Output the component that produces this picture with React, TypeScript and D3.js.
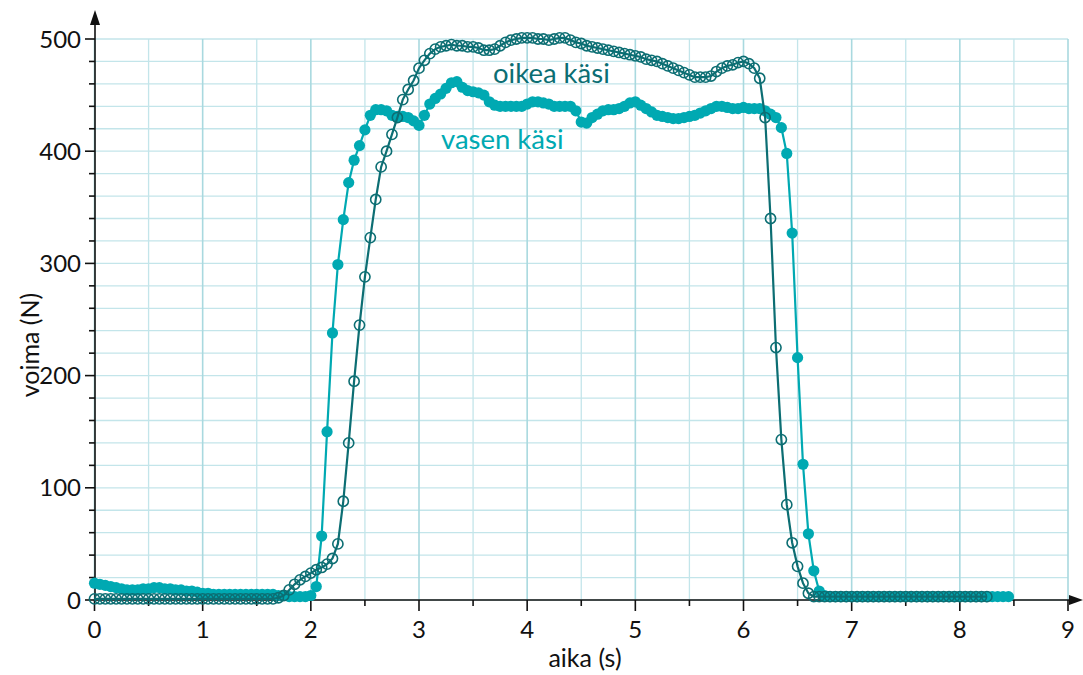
import React from "react";
import * as d3 from "d3";

// sampling interval of the measurement (s)
const DT = 0.05;

// oikea käsi (right hand), force in N, sampled every DT from t = 0
const oikeaValues: number[] = [
  1, 1, 1, 1, 1, 1, 1, 1, 1, 1,
  1, 1, 1, 1, 1, 1, 1, 1, 1, 1,
  1, 1, 1, 1, 1, 1, 1, 1, 1, 1,
  1, 1, 1, 1, 2, 4, 9, 14, 18, 21,
  24, 27, 29, 32, 37, 50, 88, 140, 195, 245,
  288, 323, 357, 386, 400, 415, 430, 446, 455, 463,
  474, 481, 487, 491, 493, 494, 495, 494, 494, 493,
  493, 492, 490, 490, 491, 494, 497, 499, 500, 501,
  501, 501, 500, 500, 499, 500, 501, 501, 499, 497,
  496, 494, 493, 492, 491, 490, 489, 488, 487, 486,
  485, 484, 482, 481, 480, 478, 476, 474, 472, 470,
  468, 466, 466, 466, 467, 471, 474, 476, 477, 479,
  480, 478, 474, 465, 430, 340, 225, 143, 85, 51,
  30, 15, 6, 3, 3, 3, 3, 3, 3, 3,
  3, 3, 3, 3, 3, 3, 3, 3, 3, 3,
  3, 3, 3, 3, 3, 3, 3, 3, 3, 3,
  3, 3, 3, 3, 3, 3,
];

// vasen käsi (left hand), force in N, sampled every DT from t = 0
const vasenValues: number[] = [
  15, 14, 13, 12, 11, 10, 9, 9, 9, 10,
  10, 11, 11, 10, 10, 9, 9, 8, 8, 7,
  6, 6, 5, 5, 5, 5, 5, 5, 5, 5,
  5, 5, 5, 5, 4, 4, 3, 3, 3, 3,
  4, 12, 57, 150, 238, 299, 339, 372, 392, 405,
  419, 432, 437, 437, 436, 432, 431, 431, 430, 427,
  423, 432, 442, 447, 451, 456, 461, 462, 457, 454,
  453, 452, 450, 444, 441, 440, 440, 440, 440, 440,
  442, 444, 444, 443, 442, 440, 440, 440, 440, 436,
  426, 425, 430, 433, 436, 437, 437, 438, 440, 443,
  444, 441, 438, 435, 432, 431, 430, 429, 429, 430,
  431, 432, 434, 436, 438, 440, 440, 439, 438, 438,
  439, 438, 438, 438, 436, 433, 430, 421, 398, 327,
  216, 121, 59, 26, 8, 4, 3, 3, 3, 3,
  3, 3, 3, 3, 3, 3, 3, 3, 3, 3,
  3, 3, 3, 3, 3, 3, 3, 3, 3, 3,
  3, 3, 3, 3, 3, 3, 3, 3, 3, 3,
];

const xTickLabels = [0, 1, 2, 3, 4, 5, 6, 7, 8, 9];
const yTickLabels = [0, 100, 200, 300, 400, 500];
const seriesNames = ["oikea käsi", "vasen käsi"];
const xTitle = "aika (s)";
const yTitle = "voima (N)";

const W = 1083;
const H = 675;
const DARK = "#0c6e73";
const LIGHT = "#00a9b2";
const GRID = "#c3e5ea";
const GRID_MAJOR = "#a9d9df";
const FONT = "Lato, 'Open Sans', sans-serif";

export default function App() {
  const x = d3.scaleLinear().domain([0, 9]).range([94.5, 1068]);
  const y = d3.scaleLinear().domain([0, 500]).range([600, 39]);

  const toPts = (vals: number[]) => vals.map((v, i) => [i * DT, v] as [number, number]);
  const oikea = toPts(oikeaValues);
  const vasen = toPts(vasenValues);

  const line = d3
    .line<[number, number]>()
    .x((d) => x(d[0]))
    .y((d) => y(d[1]));

  const xGrid = d3.range(0, 9.001, 0.5);
  const yGrid = d3.range(0, 500.001, 20);
  const yMinor = d3.range(20, 500.001, 20).filter((v) => v % 100 !== 0);

  const x0 = 95;
  const y0 = 600;

  return (
    <svg
      width={W}
      height={H}
      style={{ position: "absolute", left: 0, top: 0, background: "#fff" }}
      fontFamily={FONT}
    >
      {/* grid */}
      <g>
        {yGrid.map((v) => (
          <line key={"h" + v} x1={x(0)} x2={x(9)} y1={y(v)} y2={y(v)} stroke={GRID} strokeWidth={1.3} />
        ))}
        {xGrid.map((v) => (
          <line
            key={"v" + v}
            x1={x(v)}
            x2={x(v)}
            y1={y(0)}
            y2={y(500)}
            stroke={Number.isInteger(v) ? GRID_MAJOR : GRID}
            strokeWidth={Number.isInteger(v) ? 1.6 : 1.3}
          />
        ))}
      </g>

      {/* axes */}
      <g stroke="#111" strokeWidth={1.6}>
        <line x1={x0} x2={x0} y1={y0} y2={20} />
        <line x1={x0} x2={1076} y1={y0} y2={y0} />
        {yTickLabels.map((v) => (
          <line key={"yt" + v} x1={x0 - 10} x2={x0} y1={y(v)} y2={y(v)} />
        ))}
        {yMinor.map((v) => (
          <line key={"ym" + v} x1={x0 - 6} x2={x0} y1={y(v)} y2={y(v)} />
        ))}
        {xGrid.map((v) => (
          <line
            key={"xt" + v}
            x1={x(v)}
            x2={x(v)}
            y1={y0}
            y2={y0 + (Number.isInteger(v) ? 11 : 6)}
          />
        ))}
      </g>
      <path d={`M ${x0} 10 L ${x0 - 5} 25 L ${x0 + 5} 25 Z`} fill="#111" />
      <path d={`M 1083 ${y0} L 1069 ${y0 - 5} L 1069 ${y0 + 5} Z`} fill="#111" />

      {/* tick labels */}
      <g fontSize={24} fill="#111">
        {yTickLabels.map((v) => (
          <text key={"yl" + v} x={81} y={y(v) + 8.5} textAnchor="end">
            {v}
          </text>
        ))}
        {xTickLabels.map((v) => (
          <text key={"xl" + v} x={x(v)} y={638} textAnchor="middle">
            {v}
          </text>
        ))}
      </g>

      {/* axis titles */}
      <text x={585} y={667} textAnchor="middle" fontSize={25} fill="#111">
        {xTitle}
      </text>
      <text
        transform={`translate(39, 345) rotate(-90)`}
        textAnchor="middle"
        fontSize={25}
        fill="#111"
      >
        {yTitle}
      </text>

      {/* vasen käsi (filled) */}
      <path d={line(vasen) || ""} fill="none" stroke={LIGHT} strokeWidth={2.2} />
      <g fill={LIGHT}>
        {vasen.map((d, i) => (
          <circle key={"vc" + i} cx={x(d[0])} cy={y(d[1])} r={5.6} />
        ))}
      </g>

      {/* oikea käsi (open circles) */}
      <path d={line(oikea) || ""} fill="none" stroke={DARK} strokeWidth={2.2} />
      <g fill="none" stroke={DARK} strokeWidth={1.6}>
        {oikea.map((d, i) => (
          <circle key={"oc" + i} cx={x(d[0])} cy={y(d[1])} r={5.1} />
        ))}
      </g>

      {/* series labels */}
      <text x={493} y={83} fontSize={27.5} fill={DARK}>
        {seriesNames[0]}
      </text>
      <text x={441} y={149} fontSize={27.5} fill={LIGHT}>
        {seriesNames[1]}
      </text>
    </svg>
  );
}
